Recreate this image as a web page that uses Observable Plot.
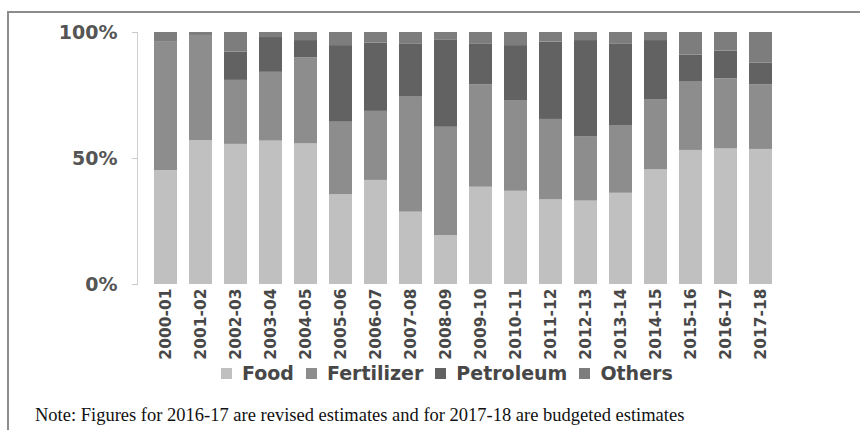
<!DOCTYPE html>
<html>
<head>
<meta charset="utf-8">
<script src="https://cdn.jsdelivr.net/npm/d3@7"></script>
<script src="https://cdn.jsdelivr.net/npm/@observablehq/plot@0.6"></script>
<style>
  body { margin: 0; background: #fff; }
  #wrap { position: relative; width: 860px; height: 430px; overflow: hidden; background: #fff; }
  #border { position: absolute; left: 7px; top: 11px; width: 900px; height: 500px;
            border-top: 2px solid #8c8c8c; border-left: 2px solid #8c8c8c; }
  #chart { position: absolute; left: 0; top: 0; }
  #legend { position: absolute; left: 221px; top: 362px; display: flex; align-items: center;
            font-family: "DejaVu Sans", sans-serif; font-weight: bold; font-size: 19px;
            line-height: 22px; color: #474747; }
  #legend .item { display: flex; align-items: center; margin-right: 12px; }
  #legend .sw { width: 11px; height: 11px; margin-right: 10px; }
  #note { position: absolute; left: 35px; top: 405px; font-family: "Liberation Serif", serif;
          font-size: 18.5px; line-height: 20px; color: #111; white-space: nowrap; }
</style>
</head>
<body>
<div id="wrap">
  <div id="border"></div>
  <div id="chart"></div>
  <div id="legend"></div>
  <div id="note">Note: Figures for 2016-17 are revised estimates and for 2017-18 are budgeted estimates</div>
</div>
<script>
// Share of each subsidy in total subsidies, per cent
const years = ["2000-01","2001-02","2002-03","2003-04","2004-05","2005-06","2006-07","2007-08","2008-09",
               "2009-10","2010-11","2011-12","2012-13","2013-14","2014-15","2015-16","2016-17","2017-18"];
const food       = [45.2, 57.1, 55.6, 56.9, 55.8, 35.6, 41.3, 28.7, 19.4, 38.6, 37.0, 33.6, 33.1, 36.2, 45.5, 53.2, 53.8, 53.6];
const fertilizer = [51.2, 41.7, 25.4, 27.3, 34.2, 28.8, 27.4, 45.9, 43.0, 40.6, 36.0, 31.9, 25.4, 26.9, 27.9, 27.1, 27.8, 25.6];
const petroleum  = [ 0.0,  0.0, 11.2, 13.8,  6.8, 30.4, 27.1, 20.9, 34.7, 16.3, 21.8, 30.7, 38.3, 32.4, 23.4, 10.8, 11.0,  8.6];
const others     = [ 3.6,  1.2,  7.8,  2.0,  3.2,  5.2,  4.2,  4.5,  2.9,  4.5,  5.2,  3.8,  3.2,  4.5,  3.2,  8.9,  7.4, 12.2];

const seriesNames  = ["Food", "Fertilizer", "Petroleum", "Others"];
const seriesValues = [food, fertilizer, petroleum, others];
const seriesColors = ["#c0c0c0", "#8d8d8d", "#626262", "#7d7d7d"];
const yTicks = [0, 50, 100];

const rows = [];
seriesNames.forEach((name, s) => {
  years.forEach((year, i) => rows.push({year, series: name, value: seriesValues[s][i]}));
});

const chart = Plot.plot({
  width: 860,
  height: 362,
  marginTop: 32,
  marginBottom: 78,
  marginLeft: 137,
  marginRight: 70,
  style: {background: "transparent", fontFamily: "DejaVu Sans, sans-serif"},
  x: {domain: years, padding: 0.33, label: null},
  y: {domain: [0, 100], label: null},
  color: {domain: seriesNames, range: seriesColors},
  marks: [
    Plot.frame({anchor: "left", stroke: "#d0d0d0"}),
    Plot.barY(rows, Plot.stackY({
      x: "year", y: "value", fill: "series",
      order: seriesNames
    })),
    Plot.axisY({
      ticks: yTicks, tickFormat: d => d + "%",
      tickSize: 5, tickPadding: 15, stroke: "#c8c8c8",
      fontSize: 19, fontWeight: "bold", fill: "#555", label: null
    }),
    Plot.axisX({
      tickSize: 0, tickPadding: 4, tickRotate: -90,
      fontSize: 15.5, fontWeight: "bold", fill: "#484848", label: null
    })
  ]
});
document.getElementById("chart").appendChild(chart);

// Legend below the chart
const legend = d3.select("#legend");
seriesNames.forEach((name, i) => {
  const item = legend.append("div").attr("class", "item");
  item.append("div").attr("class", "sw").style("background", seriesColors[i]);
  item.append("span").text(name);
});
</script>
</body>
</html>
